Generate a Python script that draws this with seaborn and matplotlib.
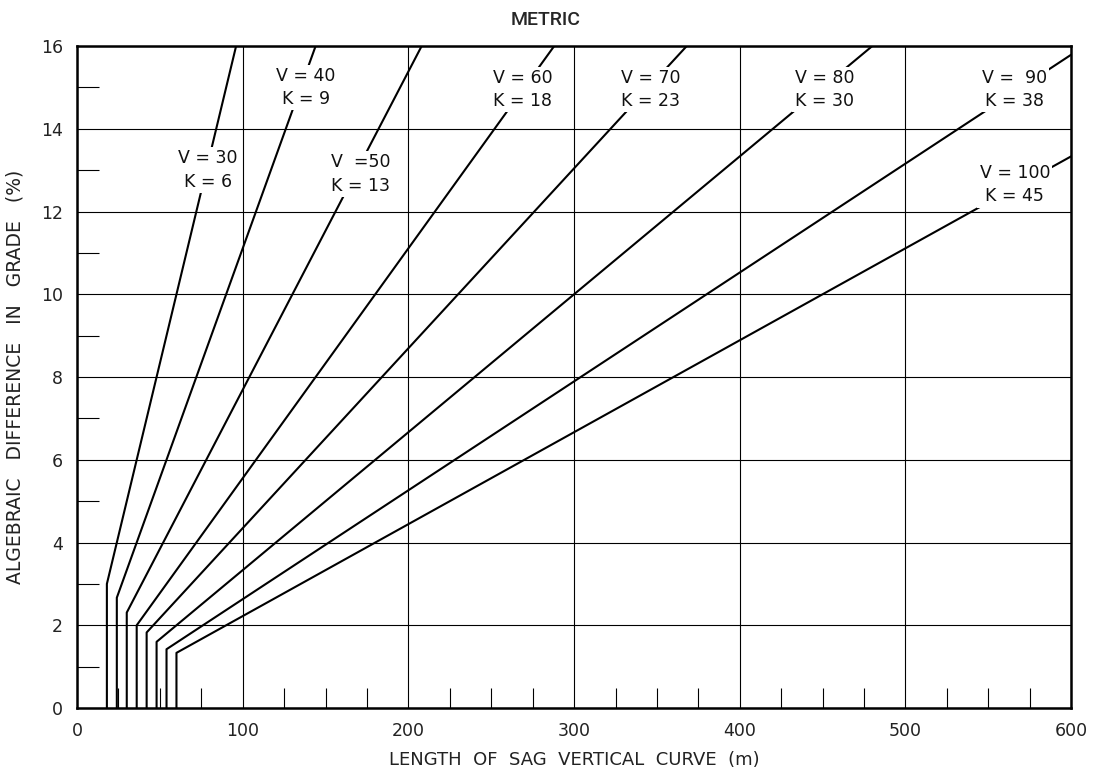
import matplotlib
matplotlib.use("Agg")
from matplotlib import pyplot as plt
from matplotlib.ticker import MultipleLocator, FixedLocator
import seaborn as sns
import pandas as pd
import numpy as np

# design speed (km/h), rate of vertical curvature K, minimum curve length (m)
speeds = [30, 40, 50, 60, 70, 80, 90, 100]
kValues = [6, 9, 13, 18, 23, 30, 38, 45]
minLengths = [18, 24, 30, 36, 42, 48, 54, 60]
labelText = ["V = 30\nK = 6", "V = 40\nK = 9", "V  =50\nK = 13",
             "V = 60\nK = 18", "V = 70\nK = 23", "V = 80\nK = 30",
             "V =  90\nK = 38", "V = 100\nK = 45"]
labelX = [79, 138, 171, 269, 346, 451, 566, 566]
labelY = [13.0, 15.0, 12.9, 14.95, 14.95, 14.95, 14.95, 12.65]

xMax, yMax = 600, 16


def build_frame():
    rows = []
    for v, k, lmin in zip(speeds, kValues, minLengths):
        aEnd = min(yMax, xMax / k)
        pts = [(lmin, 0), (lmin, lmin / k), (k * aEnd, aEnd)]
        for i, (l, a) in enumerate(pts):
            rows.append({"V": v, "order": i, "L": l, "A": a})
    return pd.DataFrame(rows)


def sagChart():
    sns.set_style("white")
    plt.rcParams['font.family'] = ['DejaVu Sans']
    df = build_frame()

    fig = plt.figure(figsize=(10.93, 7.76), dpi=100)
    ax = fig.add_axes([0.0705, 0.0876, 0.9095, 0.8531])

    for v in speeds:
        sub = df[df["V"] == v]
        sns.lineplot(data=sub, x="L", y="A", sort=False, estimator=None,
                     ax=ax, color="black", linewidth=1.5, zorder=3)

    for txt, x, y in zip(labelText, labelX, labelY):
        ax.text(x, y, txt, ha="center", va="center", fontsize=12.5,
                linespacing=1.4, zorder=5, color="#111111",
                bbox=dict(facecolor="white", edgecolor="none", pad=1.5))

    ax.set_xlim(0, xMax)
    ax.set_ylim(0, yMax)
    ax.xaxis.set_major_locator(MultipleLocator(100))
    ax.yaxis.set_major_locator(MultipleLocator(2))
    ax.xaxis.set_minor_locator(FixedLocator(
        [x for x in range(25, 600, 25) if x % 100 != 0]))
    ax.yaxis.set_minor_locator(FixedLocator(list(range(1, 16, 2))))
    ax.grid(True, which="major", color="black", linewidth=0.8, zorder=1)
    ax.set_axisbelow(True)

    ax.tick_params(which="major", length=0, labelsize=12.5, colors="#222222")
    ax.tick_params(axis="x", which="major", pad=10)
    ax.tick_params(axis="y", which="major", pad=10)
    ax.tick_params(axis="x", which="minor", direction="in", length=14.5,
                   width=0.8, color="black", bottom=True, top=False)
    ax.tick_params(axis="y", which="minor", direction="in", length=16,
                   width=0.8, color="black", left=True, right=False)

    for sp in ax.spines.values():
        sp.set_linewidth(1.8)
        sp.set_color("black")
        sp.set_visible(True)

    ax.set_xlabel("LENGTH  OF  SAG  VERTICAL  CURVE  (m)", fontsize=13,
                  labelpad=8, color="#222222")
    ax.set_ylabel("ALGEBRAIC   DIFFERENCE   IN   GRADE   (%)", fontsize=13.5,
                  labelpad=12, color="#222222")
    fig.text(0.4995, 1 - 20 / 776, "METRIC", ha="center", va="center",
             fontsize=14, fontweight="medium",
             family=["Roboto", "DejaVu Sans"])

    fig.savefig("out.png", dpi=100)


if __name__ == '__main__':
    sagChart()
